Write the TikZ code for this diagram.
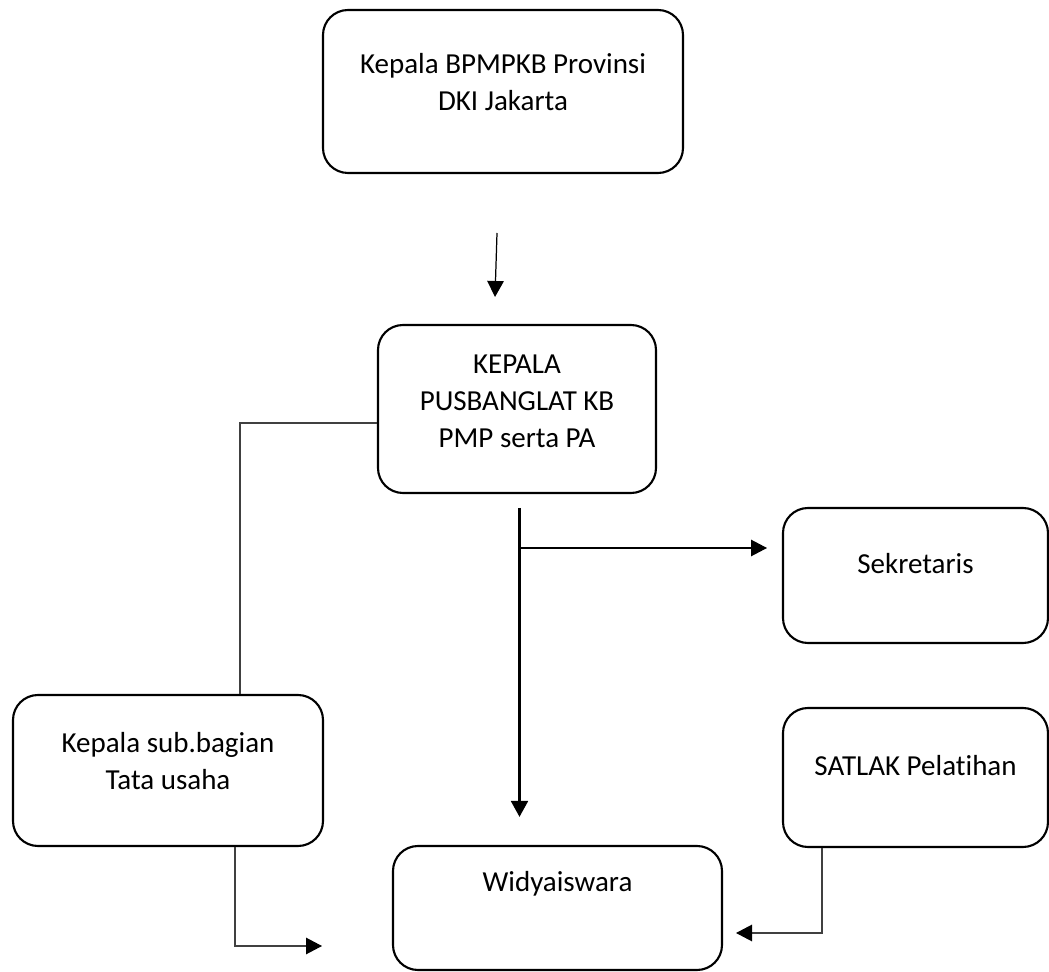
\documentclass[tikz,border=0pt]{standalone}
\usepackage{fontspec}
\setmainfont{Carlito}[Ligatures=NoCommon]
\usetikzlibrary{positioning}
\usetikzlibrary{arrows.meta}
\usetikzlibrary{calc}
\tikzstyle{box}=[rectangle,rounded corners=0.5cm,draw,line width=1.2pt,inner sep=0pt]
\tikzstyle{boxtext}=[align=center,font=\fontsize{16.5}{21}\selectfont,inner sep=0pt]
\tikzstyle{edge} = [draw,line width=0.7pt,-{Triangle[length=0.32cm,width=0.33cm]}]
\tikzstyle{grayedge} = [draw=black!75,line width=0.7pt,-{Triangle[length=0.32cm,width=0.33cm,color=black]}]
\tikzstyle{thickedge} = [draw,line width=1.9pt,-{Triangle[length=0.32cm,width=0.33cm]}]
\tikzstyle{plainedge} = [draw=black!75,line width=0.7pt]

\begin{document}
\begin{tikzpicture}

    \useasboundingbox (0,0) rectangle (20.98,-19.44);

    % First we draw the boxes and their texts
    \foreach \pos/\name/\w/\h/\dy/\label in {{(10.06,-1.83)/kepala/7.2cm/3.26cm/0.19/{Kepala BPMPKB Provinsi\\DKI Jakarta}},
        {(10.34,-8.18)/pusbang/5.56cm/3.36cm/0.15/{KEPALA\\PUSBANGLAT KB\\PMP serta PA}},
        {(18.31,-11.51)/sekre/5.3cm/2.7cm/0.23/{Sekretaris}},
        {(3.36,-15.41)/kasub/6.2cm/3.02cm/0.19/{Kepala sub.bagian\\Tata usaha}},
        {(18.31,-15.55)/satlak/5.3cm/2.78cm/0.23/{SATLAK Pelatihan}},
        {(11.15,-18.16)/widya/6.58cm/2.48cm/0.48/{Widyaiswara}}}
    {
        \node[box, minimum width=\w, minimum height=\h] (\name) at \pos {};
        \node[boxtext] (\name txt) at ($(\name)+(0,\dy)$) {\label};
    }

    % Free ends of the connectors
    \coordinate (a1) at (9.94,-4.66);
    \coordinate (a2) at (9.90,-5.94);
    \coordinate (t1) at (10.39,-10.16);
    \coordinate (t2) at (10.39,-16.34);
    \coordinate (br) at (10.39,-10.96);
    \coordinate (sekin) at (15.34,-10.96);
    \coordinate (kasubend) at (6.44,-18.92);
    \coordinate (satlakend) at (14.72,-18.66);

    % Connect boxes with lines
    \path[edge] (a1) -- (a2);
    \path[thickedge] (t1) -- (t2);
    \path[edge] (br) -- (sekin);
    \path[plainedge] ([yshift=-0.28cm]pusbang.west) -| ([xshift=1.44cm]kasub.north);
    \path[grayedge] ([xshift=1.34cm]kasub.south) |- (kasubend);
    \path[grayedge] ([xshift=-1.87cm]satlak.south) |- (satlakend);

\end{tikzpicture}
\end{document}
